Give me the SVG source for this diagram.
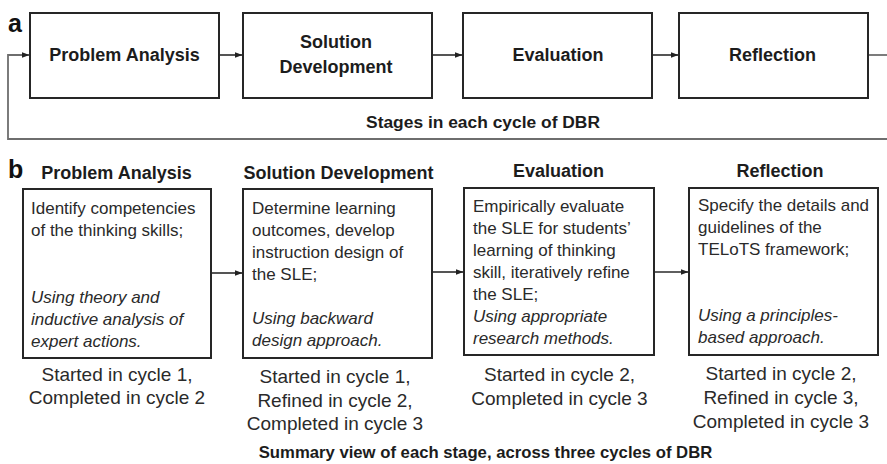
<svg xmlns="http://www.w3.org/2000/svg" width="887" height="464" viewBox="0 0 887 464">
  <defs>
    <marker id="arrow" viewBox="0 0 8 8" refX="7.5" refY="4" markerWidth="8" markerHeight="8" markerUnits="userSpaceOnUse" orient="auto">
      <path d="M0,1 L8,4 L0,7 Z" fill="#222"/>
    </marker>
    <style>
      .box { fill: #fff; stroke: #262626; stroke-width: 2; }
      .link { fill: none; stroke: #2a2a2a; stroke-width: 1.6; }
      .loop { fill: none; stroke: #6e6e6e; stroke-width: 1.8; }
      .head { font-family: "Liberation Sans", Arial, sans-serif; font-weight: bold; font-size: 18px; fill: #1c1c1c; text-anchor: middle; }
      .panel { font-family: "Liberation Sans", Arial, sans-serif; font-weight: bold; font-size: 25px; fill: #111; }
      .caption { font-family: "Liberation Sans", Arial, sans-serif; font-weight: bold; fill: #1c1c1c; text-anchor: middle; }
      .body { font-family: "Liberation Sans", Arial, sans-serif; font-size: 17px; fill: #2a2a2a; }
      .body .it { font-style: italic; }
      .note { font-family: "Liberation Sans", Arial, sans-serif; font-size: 19px; fill: #2a2a2a; text-anchor: middle; }
    </style>
  </defs>
  <rect width="887" height="464" fill="#fff"/>

  <!-- Panel a: the four stages of one DBR cycle -->
  <text class="panel" x="8" y="32">a</text>

  <g id="connectors-a">
    <polyline class="loop" points="887,139 8,139 8,55 29,55" marker-end="url(#arrow)"/>
    <line class="link" x1="219" y1="55" x2="242" y2="55" marker-end="url(#arrow)"/>
    <line class="link" x1="432" y1="55" x2="462" y2="55" marker-end="url(#arrow)"/>
    <line class="link" x1="652" y1="55" x2="678" y2="55" marker-end="url(#arrow)"/>
    <line class="loop" x1="868" y1="55" x2="887" y2="55"/>
  </g>

  <g id="a-problem-analysis">
    <rect class="box" x="30" y="13" width="189" height="85"/>
    <text class="head" x="124.5" y="61">Problem Analysis</text>
  </g>
  <g id="a-solution-development">
    <rect class="box" x="243" y="13" width="189" height="85"/>
    <text class="head" x="336" y="47.5">Solution</text>
    <text class="head" x="336" y="72.5">Development</text>
  </g>
  <g id="a-evaluation">
    <rect class="box" x="463" y="13" width="189" height="85"/>
    <text class="head" x="558" y="61">Evaluation</text>
  </g>
  <g id="a-reflection">
    <rect class="box" x="679" y="13" width="189" height="85"/>
    <text class="head" x="772.5" y="61">Reflection</text>
  </g>

  <text class="caption" x="483" y="128" style="font-size:17.4px">Stages in each cycle of DBR</text>

  <!-- Panel b: summary of each stage over three cycles -->
  <text class="panel" x="8" y="178">b</text>

  <g id="connectors-b">
    <line class="link" x1="211" y1="273" x2="242" y2="273" marker-end="url(#arrow)"/>
    <line class="link" x1="432" y1="272" x2="463" y2="272" marker-end="url(#arrow)"/>
    <line class="link" x1="654" y1="272" x2="688" y2="272" marker-end="url(#arrow)"/>
  </g>

  <g id="b-problem-analysis">
    <text class="head" x="116.5" y="179">Problem Analysis</text>
    <rect class="box" x="23" y="189" width="188" height="169"/>
    <text class="body" x="31">
      <tspan x="31" y="214">Identify competencies</tspan>
      <tspan x="31" y="236">of the thinking skills;</tspan>
      <tspan class="it" x="31" y="303">Using theory and</tspan>
      <tspan class="it" x="31" y="325">inductive analysis of</tspan>
      <tspan class="it" x="31" y="347">expert actions.</tspan>
    </text>
    <text class="note" x="117" y="381">Started in cycle 1,</text>
    <text class="note" x="117" y="404">Completed in cycle 2</text>
  </g>

  <g id="b-solution-development">
    <text class="head" x="338.5" y="179">Solution Development</text>
    <rect class="box" x="243" y="189" width="189" height="169"/>
    <text class="body" x="252">
      <tspan x="252" y="214">Determine learning</tspan>
      <tspan x="252" y="236">outcomes, develop</tspan>
      <tspan x="252" y="258">instruction design of</tspan>
      <tspan x="252" y="280">the SLE;</tspan>
      <tspan class="it" x="252" y="324">Using backward</tspan>
      <tspan class="it" x="252" y="346">design approach.</tspan>
    </text>
    <text class="note" x="335" y="383">Started in cycle 1,</text>
    <text class="note" x="335" y="407">Refined in cycle 2,</text>
    <text class="note" x="335" y="430">Completed in cycle 3</text>
  </g>

  <g id="b-evaluation">
    <text class="head" x="558.5" y="177">Evaluation</text>
    <rect class="box" x="464" y="188" width="190" height="167"/>
    <text class="body" x="473">
      <tspan x="473" y="212">Empirically evaluate</tspan>
      <tspan x="473" y="234">the SLE for students’</tspan>
      <tspan x="473" y="256">learning of thinking</tspan>
      <tspan x="473" y="278">skill, iteratively refine</tspan>
      <tspan x="473" y="300">the SLE;</tspan>
      <tspan class="it" x="473" y="322">Using appropriate</tspan>
      <tspan class="it" x="473" y="344">research methods.</tspan>
    </text>
    <text class="note" x="559.5" y="381">Started in cycle 2,</text>
    <text class="note" x="559.5" y="405">Completed in cycle 3</text>
  </g>

  <g id="b-reflection">
    <text class="head" x="780" y="177">Reflection</text>
    <rect class="box" x="689" y="188" width="189" height="167"/>
    <text class="body" x="698">
      <tspan x="698" y="211">Specify the details and</tspan>
      <tspan x="698" y="233">guidelines of the</tspan>
      <tspan x="698" y="255">TELoTS framework;</tspan>
      <tspan class="it" x="698" y="321">Using a principles-</tspan>
      <tspan class="it" x="698" y="343">based approach.</tspan>
    </text>
    <text class="note" x="781" y="380">Started in cycle 2,</text>
    <text class="note" x="781" y="404">Refined in cycle 3,</text>
    <text class="note" x="781" y="428">Completed in cycle 3</text>
  </g>

  <text class="caption" x="485.5" y="458" style="font-size:16.7px">Summary view of each stage, across three cycles of DBR</text>
</svg>
